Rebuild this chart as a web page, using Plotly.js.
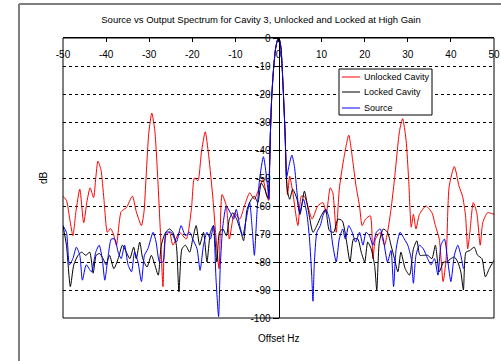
<!DOCTYPE html>
<html>
<head>
<meta charset="utf-8">
<script src="https://cdn.plot.ly/plotly-3.0.1.min.js"></script>
<style>html,body{margin:0;padding:0;background:#fff;}#chart{width:501px;height:361px;}</style>
</head>
<body>
<div id="chart"></div>
<script>
// ---- data ----
const seriesNames = ["Unlocked Cavity", "Locked Cavity", "Source"];
const yTickVals = [0, -10, -20, -30, -40, -50, -60, -70, -80, -90, -100];
const xTickVals = [-50, -40, -30, -20, -10, 0, 10, 20, 30, 40, 50];

const unlockedHz = [-50,-49.2,-48.4,-47.7,-47,-46.1,-45.2,-44.4,-43.7,-42.9,-42.4,-41.9,-41.2,-40.5,-39.7,-39,-38.3,-37.6,-36.5,-35.3,-33.9,-33,-31.8,-31.2,-30.8,-30.1,-29.4,-28.7,-28,-27.4,-26.8,-26.2,-25.3,-24.5,-23,-21.4,-20.2,-19.5,-18.7,-17.9,-17,-16.2,-15.2,-14.6,-13.8,-13.1,-12.1,-11.4,-10.2,-9,-7.9,-6.7,-5.6,-4.6,-3.6,-2.8,-2.3,
  -2.05,-1.9,-1.6,-1.2,-0.7,-0.3,0,0.3,0.6,0.9,1.2,1.5,1.7,1.85,
  2.1,2.6,3.3,4.5,5.3,6,6.8,7.8,9.1,10.3,11.1,12,12.6,13.4,14.1,15.1,16.3,17.2,18,18.8,19.4,20.2,21.3,21.9,22.5,23.6,24.6,25.3,26.1,26.9,28.1,28.8,29.6,30.2,30.8,31.3,31.9,32.7,34.2,35.6,36.4,37.3,38.2,38.9,39.6,40.8,41.9,42.7,43.4,43.9,44.4,45.2,46,46.8,47.4,48.5,50];
const unlockedDb = [-56.5,-58,-65,-70.6,-62,-54,-66,-58,-53.5,-57,-50,-44,-47,-57.6,-69.4,-68,-70,-74,-62,-60.6,-56.5,-62,-67,-62,-51.8,-34,-26.8,-33,-50.6,-69.4,-88.8,-70.6,-69.4,-74,-69.4,-71.8,-61,-50,-51,-41,-33.5,-42,-57.6,-69.4,-82.4,-55.9,-60,-71.8,-62.4,-64.7,-60,-55.3,-57.6,-54,-50.6,-56,-58,
  -45,-35,-22,-12,-4,-1,0,-1,-4,-12,-22,-33,-43,-50,
  -56,-49.4,-55,-67,-56.5,-56.5,-60,-64.7,-60,-58.8,-62.4,-53.5,-55.3,-69.4,-54,-43.5,-34.7,-43.5,-53,-60,-67,-64.7,-63.5,-78.8,-71.8,-69.4,-74,-69.4,-61.2,-50.6,-33,-28.8,-36.5,-50.6,-67.6,-63,-68.2,-63,-60,-62.4,-67,-71.8,-87,-78.8,-53,-45.9,-53,-56.5,-63.5,-75.3,-69.4,-58.8,-62.4,-74,-65.9,-62.4,-63];

const lockedHz = [-50,-49.2,-48.3,-47.5,-46.5,-45.7,-44.7,-43.8,-43,-42.3,-41.5,-40.7,-40,-39.2,-38.2,-37.2,-36.2,-35.3,-34.5,-33.6,-33,-32.2,-31.5,-30.5,-29.5,-28.7,-27.9,-27.2,-26.2,-25.3,-24.5,-23.7,-23.1,-22.4,-21.6,-20.6,-19.9,-19.1,-18.3,-17.4,-16.6,-15.8,-15.1,-14.3,-13.7,-12.9,-12.1,-11.4,-10.6,-9.7,-8.7,-8.1,-7.3,-6.3,-5.6,-4.8,-4,-3.2,-2.5,
  -2.05,-1.9,-1.6,-1.2,-0.7,-0.3,0,0.3,0.6,0.9,1.2,1.5,1.7,1.85,
  2.1,2.6,3.3,4.3,5,6,7,8,8.9,9.9,10.9,11.8,12.8,13.8,14.8,15.7,16.6,17.4,18.4,19.2,20,20.7,21.5,22.3,22.8,23.4,24.3,25.3,26.1,26.9,27.7,28.4,29.4,30.4,31.3,32.1,32.8,33.6,34.6,35.6,36.4,37.3,38.3,39,40,40.8,41.6,42.3,42.9,43.5,44.4,45.4,46.2,47.2,48,48.9,50];
const lockedDb = [-67,-74,-88.8,-81,-77.6,-76.5,-77.6,-76.5,-84,-77.6,-77,-78.8,-81,-77.6,-82.4,-78.8,-74,-76.5,-78.8,-74.7,-78.8,-72.9,-78.8,-81.8,-77.6,-81,-84.7,-74,-69.4,-68.2,-69.4,-74,-90.6,-75.3,-74,-76.5,-71.8,-67,-74,-69.4,-80,-69.4,-67,-80,-69.4,-68.2,-70.6,-64.7,-62.4,-64.7,-69.4,-72.4,-61.2,-57.6,-56.5,-58.8,-51.8,-54,-57,
  -45,-35,-22,-12,-4,-1,0,-1,-4,-12,-22,-33,-43,-50,
  -55,-57.6,-54,-57.6,-63,-54.7,-62.4,-69.4,-67,-63.5,-61.2,-68.8,-69.4,-64.7,-65.3,-71.8,-80,-71.8,-71.8,-76.5,-80,-72.9,-75.3,-81.2,-90,-72.9,-68.2,-69.4,-74,-78.8,-83.5,-76.5,-82.4,-84.7,-75.3,-72.4,-77.6,-77.6,-77.6,-78.8,-74,-83.5,-80,-80,-78.8,-78.2,-80,-83.5,-90,-76.5,-75.9,-74.7,-77.6,-78.8,-85.3,-82.4,-79.4];

const sourceHz = [-50,-49.2,-48.5,-47.7,-46.9,-46.1,-45.5,-44.6,-43.4,-42.4,-41.6,-40.9,-40.3,-39.5,-38.8,-38,-37.2,-36.5,-35.7,-34.9,-34.1,-33.4,-32.6,-31.8,-31.1,-30.3,-29.1,-28.4,-27.6,-26.8,-26,-24.9,-23.7,-22.6,-21.6,-20.6,-19.9,-18.9,-18.2,-17.4,-16.6,-15.8,-15.1,-14.5,-13.9,-13.5,-12.9,-12.1,-11.2,-10.4,-9.8,-9,-8.3,-7.5,-6.7,-6.1,-5.6,-5,-4.4,-3.5,-2.7,-2.2,
  -2.05,-1.9,-1.6,-1.2,-0.7,-0.3,0,0.3,0.6,0.9,1.2,1.5,1.7,1.85,
  2.4,3.1,3.7,4.3,4.9,5.8,6.6,7.2,7.7,8,8.3,8.9,9.7,10.3,11,11.8,12.6,13.4,14.1,14.9,15.5,16.3,17.1,17.9,18.8,19.6,20.3,21.1,21.9,22.7,23.6,24.3,25.3,26.1,26.7,27.3,28.2,29.2,30,30.8,31.3,31.9,32.7,33.6,34.6,35.4,36.2,37,37.7,38.5,39.3,40,40.8,41.6,42.3,42.9];
const sourceDb = [-67,-69.4,-81,-78.8,-74.7,-77.6,-86.5,-81,-83.5,-76.5,-74,-78.8,-86.5,-77.6,-71.8,-71.8,-76.5,-78.8,-74,-81,-83.5,-76.5,-80,-87,-77.6,-75.3,-69.4,-72.9,-80,-80,-69.4,-69.4,-72.9,-67,-70.6,-69.4,-71.8,-75.3,-83,-74,-69.4,-71.8,-67,-85.9,-99.5,-81,-67,-60,-62.4,-64.7,-61.2,-67,-70.6,-64.7,-58.8,-68.2,-77.6,-62.4,-50.6,-42.4,-50.6,-57.6,
  -45,-35,-22,-12,-4,-1,0,-1,-4,-12,-22,-33,-43,-50,
  -45.9,-41.8,-45.9,-55.3,-62.4,-57.6,-63,-71.8,-84.7,-94,-81,-69.4,-67,-63.5,-61.2,-64.7,-74,-80,-71.8,-68.2,-71.8,-67,-69.4,-72.9,-69.4,-74,-69.4,-70.6,-74,-69.4,-68.2,-71.8,-80,-75.9,-88.8,-75.3,-69.4,-71.8,-74,-78.8,-87.6,-77.6,-74,-75.3,-78.8,-81,-78.8,-84.7,-74,-71.8,-80,-87,-77.6,-74,-77.6,-82.4];

const seriesColors = ["#ff0000", "#000000", "#0000ff"];

// ---- layout helpers (pixel -> paper) ----
const M = {l: 63, r: 7, t: 38, b: 43};
const W = 501, H = 361;
const PW = W - M.l - M.r, PH = H - M.t - M.b;
const px = x => (x - M.l) / PW;
const py = y => (H - M.b - y) / PH;

const FONT = "Liberation Sans, Arial, Helvetica, sans-serif";

const traces = [
  {x: unlockedHz, y: unlockedDb, name: seriesNames[0]},
  {x: lockedHz, y: lockedDb, name: seriesNames[1]},
  {x: sourceHz, y: sourceDb, name: seriesNames[2]}
].map((t, i) => Object.assign(t, {
  type: "scatter", mode: "lines", showlegend: false,
  line: {color: seriesColors[i], width: 1, shape: "spline", smoothing: 0.6}, hoverinfo: "skip"
}));

// custom compact legend (MATLAB style)
const legRows = [77, 92, 108];
const shapes = [
  // plot frame
  {type: "rect", xref: "paper", yref: "paper", x0: 0, x1: 1, y0: 0, y1: 1, line: {color: "#000", width: 1}, layer: "above"},
  // outer gray figure frame (left + top)
  {type: "line", xref: "paper", yref: "paper", x0: px(19), x1: px(19), y0: py(4), y1: py(361), line: {color: "#7f7f7f", width: 2}},
  {type: "line", xref: "paper", yref: "paper", x0: px(19), x1: px(501), y0: py(4), y1: py(4), line: {color: "#7f7f7f", width: 2}},
  // legend box
  {type: "rect", xref: "paper", yref: "paper", x0: px(339), x1: px(432), y0: py(115), y1: py(69), fillcolor: "#fff", line: {color: "#000", width: 1}, layer: "above"}
];
const annotations = [
  {xref: "paper", yref: "paper", x: 0.5, y: py(338), text: "Offset Hz", showarrow: false, font: {family: FONT, size: 10, color: "#000"}, xanchor: "center", yanchor: "middle"},
  {xref: "paper", yref: "paper", x: px(43), y: 0.5, text: "dB", textangle: -90, showarrow: false, font: {family: FONT, size: 10, color: "#000"}, xanchor: "center", yanchor: "middle"}
];
seriesNames.forEach((nm, i) => {
  shapes.push({type: "line", xref: "paper", yref: "paper", x0: px(342), x1: px(360), y0: py(legRows[i]), y1: py(legRows[i]), line: {color: seriesColors[i], width: 1}, layer: "above"});
  annotations.push({xref: "paper", yref: "paper", x: px(362), y: py(legRows[i]), text: nm, showarrow: false, xanchor: "left", yanchor: "middle", font: {family: FONT, size: 9, color: "#000"}});
});

const layout = {
  width: W, height: H,
  margin: M,
  paper_bgcolor: "#fff", plot_bgcolor: "#fff",
  font: {family: FONT, size: 10, color: "#000"},
  title: {text: "Source vs Output Spectrum for Cavity 3, Unlocked and Locked at High Gain",
          font: {family: FONT, size: 9.5, color: "#000"},
          xref: "container", yref: "container", x: 261 / W, y: 1 - 20 / H, xanchor: "center", yanchor: "middle"},
  xaxis: {
    range: [-50, 50], side: "top", tickvals: xTickVals, ticktext: xTickVals.map(String),
    ticks: "inside", ticklen: 4, tickcolor: "#000", ticklabelposition: "inside", ticklabeloverflow: "allow",
    ticklabelstandoff: 8,
    showgrid: false, zeroline: false, showline: true, linecolor: "#000", linewidth: 1,
    tickfont: {family: FONT, size: 10, color: "#000"}, fixedrange: true
  },
  yaxis: {
    range: [-100, 0], anchor: "free", position: 0.5, tickvals: yTickVals, ticktext: yTickVals.map(String),
    ticks: "outside", ticklen: 6, tickcolor: "#000",
    showgrid: true, gridcolor: "#000", gridwidth: 1, griddash: "3px,3px",
    zeroline: false, showline: true, linecolor: "#000", linewidth: 1,
    tickfont: {family: FONT, size: 10, color: "#000"}, fixedrange: true
  },
  shapes: shapes,
  annotations: annotations
};

Plotly.newPlot("chart", traces, layout, {staticPlot: true, displayModeBar: false});
</script>
</body>
</html>
